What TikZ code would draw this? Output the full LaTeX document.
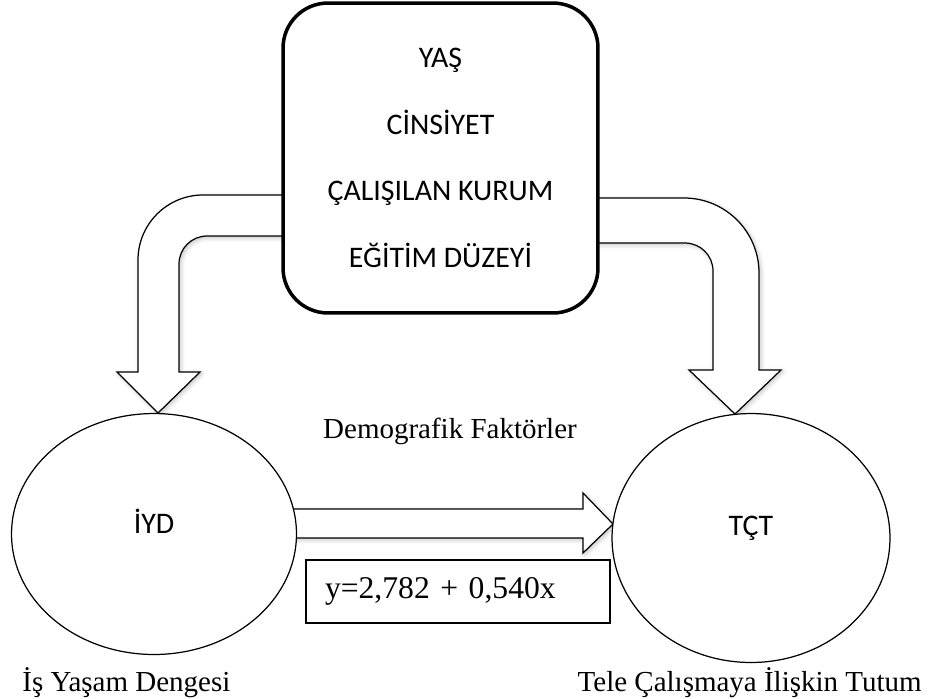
\documentclass[tikz,border=0pt]{standalone}
\usepackage{fontspec}
\setmainfont{Liberation Serif}
\newfontfamily\calfont{Carlito}
\usetikzlibrary{shapes.geometric,shadows.blur}

\tikzset{
  softshadow/.style={blur shadow={shadow xshift=1pt, shadow yshift=-1pt, shadow blur radius=2.5pt, shadow opacity=25}},
  blockarrow/.style={draw, line width=0.7pt, fill=white, line join=miter, softshadow},
  factorbox/.style={draw, line width=2pt, fill=white, rounded corners=0.9cm,
    minimum width=6.3cm, minimum height=6.2cm, align=center,
    font=\calfont\fontsize{17}{37.8}\selectfont},
  varellipse/.style={ellipse, draw, line width=0.7pt, fill=white,
    font=\calfont\fontsize{17}{20}\selectfont, text depth=0.5cm, inner sep=0pt},
  caption/.style={inner sep=0pt, font=\fontsize{16.5}{19}\selectfont},
}

\begin{document}
\begin{tikzpicture}[x=0.02cm, y=-0.02cm]
\useasboundingbox (0,0) rectangle (929,698);

% bent arrows, behind the box
\filldraw[blockarrow] (283,195) -- (203,195) .. controls (167.1,195) and (138,224.1) .. (138,260)
  -- (138,372) -- (117,372) -- (158,413) -- (200,372) -- (179,372)
  -- (179,264) .. controls (179,248.5) and (191.5,236) .. (207,236) -- (283,236) -- cycle;
\filldraw[blockarrow] (598,198) -- (684,198) .. controls (725.4,198) and (759,231.6) .. (759,273)
  -- (759,370) -- (781,370) -- (735,414) -- (689,370) -- (713,370)
  -- (713,271) .. controls (713,255.5) and (700.5,243) .. (685,243) -- (598,243) -- cycle;

% straight arrow
\filldraw[blockarrow] (288,509) -- (583,509) -- (583,493) -- (613,524)
  -- (583,553) -- (583,538) -- (288,538) -- cycle;

\node[factorbox] (factors) at (440.5,158) {YAŞ\\CİNSİYET\\ÇALIŞILAN KURUM\\EĞİTİM DÜZEYİ};

\node[varellipse, minimum width=5.7cm, minimum height=4.82cm] (iyd) at (154,534) {İYD};
\node[varellipse, minimum width=5.56cm, minimum height=4.98cm] (tct) at (751,538) {TÇT};

\node[draw, line width=0.7pt, fill=white, minimum width=6.08cm, minimum height=1.26cm,
  text width=5.32cm, inner xsep=0.38cm, align=left,
  font=\fontsize{18}{21}\selectfont] (eq) at (458,591.5) {y=2,782 + 0,540x};

\node[caption, anchor=base] (demo) at (450,438) {Demografik Faktörler};
\node[caption, anchor=base west] (iydlabel) at (22,691) {İş Yaşam Dengesi};
\node[caption, anchor=base east] (tctlabel) at (922,691) {Tele Çalışmaya İlişkin Tutum};
\end{tikzpicture}
\end{document}
